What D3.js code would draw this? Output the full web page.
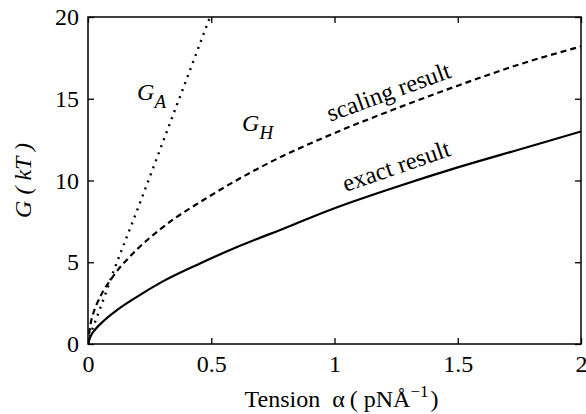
<!DOCTYPE html>
<html>
<head>
<meta charset="utf-8">
<script src="https://cdn.jsdelivr.net/npm/d3@7"></script>
<style>
  svg text { font-family: 'Liberation Serif', serif !important; }
</style>
</head>
<body style="margin:0; background:#fff">
<div id="chart"></div>
<script>
// values
let exactAlpha = [0, 0.01, 0.03, 0.07, 0.12, 0.2, 0.3, 0.45, 0.6, 0.8, 1, 1.25, 1.5, 1.75, 2]
let exactG     = [0, 0.45, 0.9, 1.5, 2.1, 2.9, 3.8, 4.9, 5.9, 7.1, 8.3, 9.6, 10.8, 11.9, 13.0]

let scalingAlpha = [0, 0.01, 0.02, 0.05, 0.1, 0.2, 0.3, 0.5, 0.75, 1, 1.25, 1.5, 1.75, 2]
let scalingG     = [0, 1.2, 1.8, 2.9, 4.1, 5.8, 7.1, 9.1, 11.2, 12.9, 14.4, 15.8, 17.1, 18.2]

let gaAlpha = [0, 0.01, 0.02, 0.05, 0.1, 0.2, 0.3, 0.4, 0.5]
let gaG     = [0, 0.6, 1.0, 2.2, 4.3, 8.2, 12.2, 16.2, 20.2]

let xTicks = [0, 0.5, 1, 1.5, 2]
let yTicks = [0, 5, 10, 15, 20]

let margin = {top: 17, right: 5, bottom: 70, left: 88},
    width = 586 - margin.left - margin.right,
    height = 414 - margin.top - margin.bottom

let xScale = d3.scaleLinear().domain([0, 2]).range([0, width])
let yScale = d3.scaleLinear().domain([0, 20]).range([height, 0])

let root = d3.select("#chart").append("svg")
    .attr("width", 586)
    .attr("height", 414)
    .attr("font-family", "Liberation Serif")
    .style("display", "block")

let svg = root.append("g")
    .attr("transform", "translate(" + margin.left + "," + margin.top + ")")

svg.append("defs").append("clipPath").attr("id", "clip")
  .append("rect").attr("width", width).attr("height", height)

let fmt = d => String(d)

// axes with inward ticks on all four sides
svg.append("g")
  .attr("transform", "translate(0," + height + ")")
  .call(d3.axisBottom(xScale).tickValues(xTicks).tickFormat(fmt).tickSizeInner(-6).tickSizeOuter(0).tickPadding(11))
svg.append("g")
  .call(d3.axisTop(xScale).tickValues(xTicks).tickFormat("").tickSizeInner(-6).tickSizeOuter(0))
svg.append("g")
  .call(d3.axisLeft(yScale).tickValues(yTicks).tickFormat(fmt).tickSizeInner(-6).tickSizeOuter(0).tickPadding(9))
svg.append("g")
  .attr("transform", "translate(" + width + ",0)")
  .call(d3.axisRight(yScale).tickValues(yTicks).tickFormat("").tickSizeInner(-6).tickSizeOuter(0))

// drop the sans-serif defaults that d3.axis puts on its groups
svg.selectAll("g").attr("font-family", null).attr("font-size", null)
svg.selectAll(".domain").remove()
svg.selectAll(".tick line").attr("stroke", "#000").attr("stroke-width", 1.3)
svg.selectAll(".tick text").attr("font-size", 24)

svg.append("rect")
  .attr("width", width).attr("height", height)
  .attr("fill", "none").attr("stroke", "#000").attr("stroke-width", 1.5)

let line = d3.line()
  .x(d => xScale(d[0]))
  .y(d => yScale(d[1]))
  .curve(d3.curveMonotoneX)

let plot = svg.append("g").attr("clip-path", "url(#clip)")

plot.append("path")
  .datum(exactAlpha.map((a, i) => [a, exactG[i]]))
  .attr("d", line)
  .attr("fill", "none").attr("stroke", "#000").attr("stroke-width", 2.2)

plot.append("path")
  .datum(scalingAlpha.map((a, i) => [a, scalingG[i]]))
  .attr("d", line)
  .attr("fill", "none").attr("stroke", "#000").attr("stroke-width", 2.2)
  .attr("stroke-dasharray", "6,4")

plot.append("path")
  .datum(gaAlpha.map((a, i) => [a, gaG[i]]))
  .attr("d", line)
  .attr("fill", "none").attr("stroke", "#000").attr("stroke-width", 2.4)
  .attr("stroke-dasharray", "2,5.5")

// curve labels
let ga = svg.append("text")
  .attr("x", xScale(0.199)).attr("y", yScale(14.9))
  .attr("font-size", 24).attr("font-style", "italic")
ga.append("tspan").text("G")
ga.append("tspan").attr("dy", 8).attr("font-size", 19).text("A")

let gh = svg.append("text")
  .attr("x", xScale(0.625)).attr("y", yScale(13.0))
  .attr("font-size", 24).attr("font-style", "italic")
gh.append("tspan").text("G")
gh.append("tspan").attr("dy", 8).attr("font-size", 19).text("H")

svg.append("text")
  .attr("transform", "translate(" + xScale(0.983) + "," + yScale(13.6) + ") rotate(-20)")
  .attr("font-size", 24.5)
  .text("scaling result")

svg.append("text")
  .attr("transform", "translate(" + xScale(1.046) + "," + yScale(9.3) + ") rotate(-19)")
  .attr("font-size", 24.5)
  .text("exact result")

// axis titles
let xt = svg.append("text")
  .attr("x", width / 2 + 7).attr("y", height + 63)
  .attr("text-anchor", "middle")
  .attr("font-size", 24)
xt.append("tspan").text("Tension")
xt.append("tspan").attr("dx", 12).text("α")
xt.append("tspan").attr("dx", 5).text("(")
xt.append("tspan").attr("dx", 6).text("pNÅ")
xt.append("tspan").attr("dy", -10).attr("font-size", 17).text("−1")
xt.append("tspan").attr("dy", 10).attr("dx", 2).text(")")

svg.append("text")
  .attr("transform", "translate(" + (-57) + "," + (height / 2) + ") rotate(-90)")
  .attr("text-anchor", "middle")
  .attr("font-size", 24).attr("font-style", "italic")
  .text("G ( kT )")

svg.selectAll("text")
  .attr("font-family", "Liberation Serif")
  .style("font-family", "'Liberation Serif'")
  .attr("fill", "#000")
</script>
</body>
</html>
